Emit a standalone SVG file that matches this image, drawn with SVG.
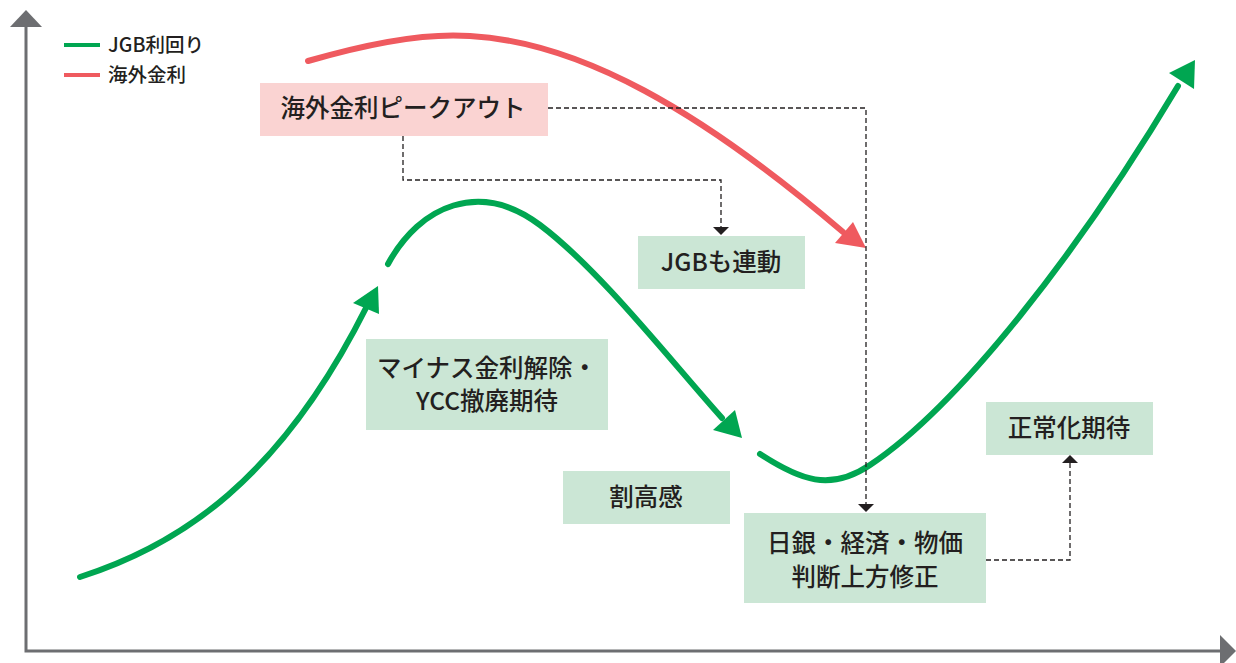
<svg xmlns="http://www.w3.org/2000/svg" width="1236" height="663" viewBox="0 0 1236 663">
<style>
text{font-family:"Noto Sans CJK JP","Noto Sans",sans-serif;fill:#231F20;font-weight:500;}
.lbl{font-size:24.5px;text-anchor:middle;}
.leg{font-size:19.5px;}
.gbox{fill:#CBE6D5;}
.pbox{fill:#FAD3D2;}
.g{fill:none;stroke:#00A651;stroke-width:6;stroke-linecap:round;}
.r{fill:none;stroke:#EF5A5F;stroke-width:6;stroke-linecap:round;}
.gh{fill:#00A651;}
.rh{fill:#EF5A5F;}
.d{fill:none;stroke:#231F20;stroke-width:1.3;stroke-dasharray:5 3;}
.dh{fill:#231F20;}
.ax{stroke:#6D6E71;stroke-width:3;fill:none;}
.axh{fill:#6D6E71;}
</style>
<rect width="1236" height="663" fill="#FFFFFF"/>
<g id="axes">
<path class="ax" d="M26,24 V651 H1224"/>
<polygon class="axh" points="26,10 42,27 10,27"/>
<polygon class="axh" points="1236,651 1220,635 1220,667"/>
</g>
<g id="legend">
<line x1="64" y1="45" x2="100" y2="45" stroke="#00A651" stroke-width="4"/>
<text class="leg" x="108" y="52">JGB利回り</text>
<line x1="64" y1="75" x2="100" y2="75" stroke="#EF5A5F" stroke-width="4"/>
<text class="leg" x="108" y="82">海外金利</text>
</g>
<g id="curves">
<path class="r" d="M308,61 C380,40 430,33 470,36 C580,42 700,110 843,232"/>
<polygon class="rh" points="866,248 835,243 853,222"/>
<path class="g" d="M80,577 C180,545 280,480 367,306"/>
<polygon class="gh" points="378,286 353,303 379,314"/>
<path class="g" d="M388,264 C420,205 480,180 540,225 C600,270 670,360 722,418"/>
<polygon class="gh" points="742,438 713,430 735,410"/>
<path class="g" d="M760,454 C800,480 830,492 870,465 C960,405 1080,250 1178,86"/>
<polygon class="gh" points="1195,60 1169,73 1194,89"/>
</g>
<g id="connectors">
<path class="d" d="M548,108 H866 V504"/>
<polygon class="dh" points="866,512 858,504 874,504"/>
<path class="d" d="M403,136 V180 H721 V227"/>
<polygon class="dh" points="721,235 713,227 729,227"/>
<path class="d" d="M986,560 H1070 V463"/>
<polygon class="dh" points="1070,455 1062,463 1078,463"/>
</g>
<g id="node-peakout">
<rect class="pbox" x="260" y="83" width="288" height="53"/>
<text class="lbl" x="403" y="117">海外金利ピークアウト</text>
</g>
<g id="node-jgb">
<rect class="gbox" x="638" y="236" width="167" height="53"/>
<text class="lbl" x="721" y="271">JGBも連動</text>
</g>
<g id="node-minus">
<rect class="gbox" x="366" y="339" width="242" height="91"/>
<text class="lbl"><tspan x="487" y="377">マイナス金利解除・</tspan><tspan x="487" y="410">YCC撤廃期待</tspan></text>
</g>
<g id="node-overvalued">
<rect class="gbox" x="563" y="471" width="167" height="53"/>
<text class="lbl" x="646" y="506">割高感</text>
</g>
<g id="node-boj">
<rect class="gbox" x="744" y="513" width="242" height="90"/>
<text class="lbl"><tspan x="865" y="552">日銀・経済・物価</tspan><tspan x="865" y="586">判断上方修正</tspan></text>
</g>
<g id="node-normal">
<rect class="gbox" x="986" y="402" width="167" height="53"/>
<text class="lbl" x="1069" y="437">正常化期待</text>
</g>
</svg>
